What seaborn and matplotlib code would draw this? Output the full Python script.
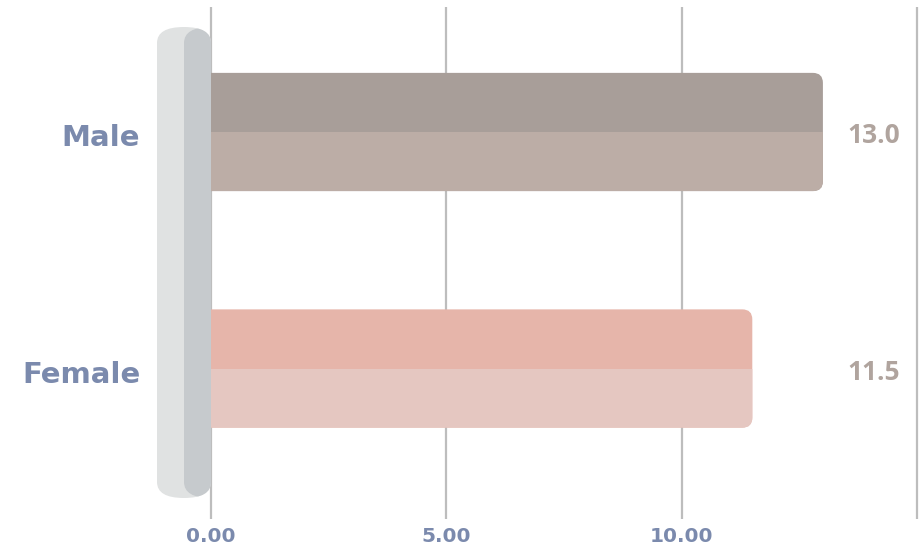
import matplotlib
matplotlib.use("Agg")
import matplotlib.pyplot as plt
import matplotlib.transforms as mtransforms
import seaborn as sns
import pandas as pd
from matplotlib.patches import FancyBboxPatch, Rectangle

categories = ["Male", "Female"]
values = [13.0, 11.5]
value_labels = ["13.0", "11.5"]
xticks = [0, 5, 10, 15]
xtick_labels = ["0.00", "5.00", "10.00", ""]

top_colors = ["#a89e99", "#e6b5aa"]
bottom_colors = ["#bcada6", "#e5c7c1"]

sns.set_theme(style="white")
plt.rcParams['font.family'] = ['DejaVu Sans']

W, H = 923, 548
fig = plt.figure(figsize=(W / 100, H / 100), dpi=100)
px_per_x = 47.07
zero_px = 211
# axes in pixel coordinates
ax_l, ax_r = 150, 923
ax_t, ax_b = 7, 519
ax = fig.add_axes([ax_l / W, 1 - ax_b / H, (ax_r - ax_l) / W, (ax_b - ax_t) / H])

xmin = (ax_l - zero_px) / px_per_x
xmax = (ax_r - zero_px) / px_per_x
px_per_y = 236.5
y0_px = 132
ylim_top = (ax_t - y0_px) / px_per_y
ylim_bot = (ax_b - y0_px) / px_per_y

df = pd.DataFrame({"category": categories, "value": values})
sns.barplot(data=df, x="value", y="category", orient="h", ax=ax,
            width=0.5, color="#bcada6", saturation=1)

ax.set_xlim(xmin, xmax)
ax.set_ylim(ylim_bot, ylim_top)

aspect = px_per_x / px_per_y  # data-y per data-x for equal pixel lengths

# replace bars with rounded two-tone bars
patches = list(ax.patches)
r_px = 10
r_x = r_px / px_per_x
for i, p in enumerate(patches):
    x, y, w, h = p.get_x(), p.get_y(), p.get_width(), p.get_height()
    p.remove()
    outer = FancyBboxPatch((x - r_x * 2, y), w + r_x * 2, h,
                           boxstyle=f"round,pad=0,rounding_size={r_x}",
                           mutation_aspect=aspect,
                           facecolor=top_colors[i], edgecolor="none", zorder=2)
    ax.add_patch(outer)
    lower = Rectangle((x - r_x * 3, y + h / 2), w + r_x * 4, h / 2,
                      facecolor=bottom_colors[i], edgecolor="none", zorder=2.1)
    ax.add_patch(lower)
    lower.set_clip_path(outer)

# gridlines
for xv in xticks:
    ax.axvline(xv, color="#bdbdbd", lw=1.6, zorder=1)

# pill at left
pill_l = (157 - zero_px) / px_per_x
pill_w = (211 - 157) / px_per_x
pill_t = (27 - y0_px) / px_per_y
pill_h = (498 - 27) / px_per_y
pill_r = pill_w / 2
pill_aspect = (16 / px_per_y) / pill_r
pill = FancyBboxPatch((pill_l, pill_t), pill_w, pill_h,
                      boxstyle=f"round,pad=0,rounding_size={pill_r}",
                      mutation_aspect=pill_aspect,
                      facecolor="#e0e2e2", edgecolor="none", zorder=5)
ax.add_patch(pill)
shift = 27 / px_per_x
pill2 = FancyBboxPatch((pill_l + shift, pill_t), pill_w, pill_h,
                       boxstyle=f"round,pad=0,rounding_size={pill_r}",
                       mutation_aspect=pill_aspect,
                       facecolor="#c6cacd", edgecolor="none", zorder=5.1)
ax.add_patch(pill2)
pill2.set_clip_path(pill)

# value labels
lab_x = (900 - zero_px) / px_per_x
for i, lab in enumerate(value_labels):
    ax.text(lab_x, i + 0.015, lab, ha="right", va="center", fontsize=19,
            fontweight="bold", color="#b0a49e", zorder=6,
            family=["Open Sans", "DejaVu Sans"])

# axes styling
for s in ax.spines.values():
    s.set_visible(False)
ax.set_xlabel("")
ax.set_ylabel("")
ax.set_xticks(xticks)
ax.set_xticklabels(xtick_labels, fontsize=14.5, fontweight="bold", color="#7b8aad")
ax.tick_params(axis="x", length=0, pad=6)
ax.set_yticks(range(len(categories)))
ax.set_yticklabels(categories, fontsize=21, fontweight="bold", color="#7b8aad")
ax.tick_params(axis="y", length=0, pad=7)
offset = mtransforms.ScaledTranslation(0, -2.5 / 72, fig.dpi_scale_trans)
for t in ax.get_yticklabels():
    t.set_transform(t.get_transform() + offset)
ax.grid(False)

fig.savefig("out.png", dpi=100)
